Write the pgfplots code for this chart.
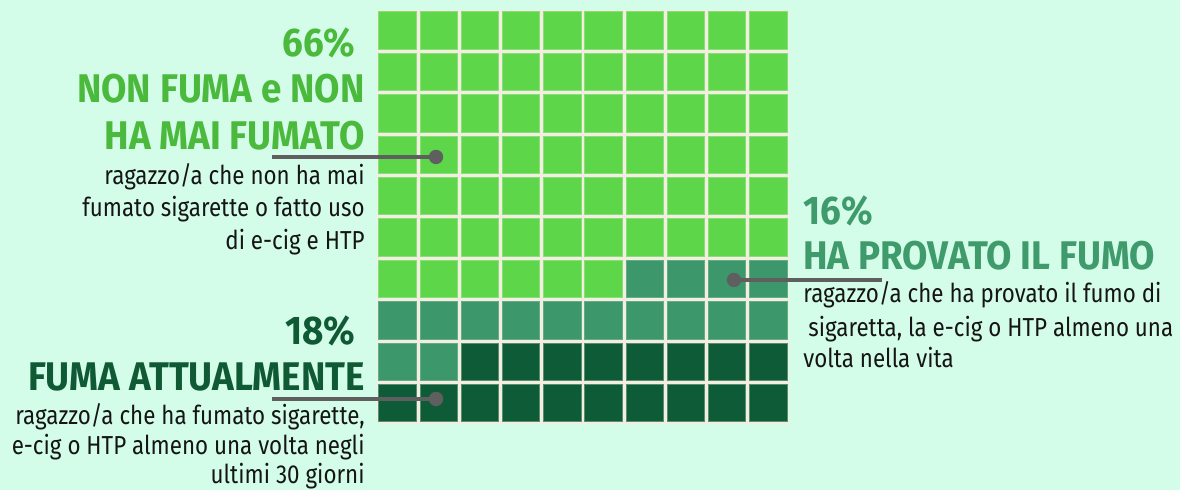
\documentclass[border=0pt]{standalone}
\usepackage{pgfplots}
\pgfplotsset{compat=1.18}
\usepackage{pgfplotstable}
\usepackage{fontspec}
\setmainfont[FakeStretch=0.86]{Fira Sans}
\newfontfamily\headfont[FakeStretch=0.92]{Fira Sans}
\definecolor{bgmint}{HTML}{D3FDE8}
\definecolor{beige}{HTML}{F3EEE0}
\definecolor{lightg}{HTML}{5DD64A}
\definecolor{midg}{HTML}{3C976B}
\definecolor{darkg}{HTML}{0D5C37}
\definecolor{lighttxt}{HTML}{4AB93C}
\definecolor{midtxt}{HTML}{3F9A6C}
\definecolor{darktxt}{HTML}{0F5A34}
\definecolor{conn}{HTML}{5F5F5F}
\definecolor{bodytxt}{HTML}{151515}

% cells: non fuma (66)
\pgfplotstableread{
x y
0.5 9.5
1.5 9.5
2.5 9.5
3.5 9.5
4.5 9.5
5.5 9.5
6.5 9.5
7.5 9.5
8.5 9.5
9.5 9.5
0.5 8.5
1.5 8.5
2.5 8.5
3.5 8.5
4.5 8.5
5.5 8.5
6.5 8.5
7.5 8.5
8.5 8.5
9.5 8.5
0.5 7.5
1.5 7.5
2.5 7.5
3.5 7.5
4.5 7.5
5.5 7.5
6.5 7.5
7.5 7.5
8.5 7.5
9.5 7.5
0.5 6.5
1.5 6.5
2.5 6.5
3.5 6.5
4.5 6.5
5.5 6.5
6.5 6.5
7.5 6.5
8.5 6.5
9.5 6.5
0.5 5.5
1.5 5.5
2.5 5.5
3.5 5.5
4.5 5.5
5.5 5.5
6.5 5.5
7.5 5.5
8.5 5.5
9.5 5.5
0.5 4.5
1.5 4.5
2.5 4.5
3.5 4.5
4.5 4.5
5.5 4.5
6.5 4.5
7.5 4.5
8.5 4.5
9.5 4.5
0.5 3.5
1.5 3.5
2.5 3.5
3.5 3.5
4.5 3.5
5.5 3.5
}\nonfuma
% ha provato (16)
\pgfplotstableread{
x y
6.5 3.5
7.5 3.5
8.5 3.5
9.5 3.5
0.5 2.5
1.5 2.5
2.5 2.5
3.5 2.5
4.5 2.5
5.5 2.5
6.5 2.5
7.5 2.5
8.5 2.5
9.5 2.5
0.5 1.5
1.5 1.5
}\provato
% fuma attualmente (18)
\pgfplotstableread{
x y
2.5 1.5
3.5 1.5
4.5 1.5
5.5 1.5
6.5 1.5
7.5 1.5
8.5 1.5
9.5 1.5
0.5 0.5
1.5 0.5
2.5 0.5
3.5 0.5
4.5 0.5
5.5 0.5
6.5 0.5
7.5 0.5
8.5 0.5
9.5 0.5
}\fuma

\begin{document}
\begin{tikzpicture}
\useasboundingbox (0,0) rectangle (590pt,245pt);
\fill[bgmint] (0,0) rectangle (590pt,245pt);
\begin{scope}
\clip (0,0) rectangle (590pt,245pt);
\begin{axis}[
  at={(188.5pt,33pt)}, anchor=south west,
  scale only axis, width=206pt, height=207pt,
  xmin=0, xmax=10, ymin=0, ymax=10,
  axis lines=none, clip=false,
  axis background/.style={fill=beige},
]
\addplot[only marks, mark=square*, mark size=9.35pt,
  mark options={fill=lightg, draw=lightg!75!white, line width=0.5pt}] table[x=x,y=y]{\nonfuma};
\addplot[only marks, mark=square*, mark size=9.35pt,
  mark options={fill=midg, draw=midg!80!white, line width=0.5pt}] table[x=x,y=y]{\provato};
\addplot[only marks, mark=square*, mark size=9.35pt,
  mark options={fill=darkg, draw=darkg!70!white, line width=0.5pt}] table[x=x,y=y]{\fuma};
\end{axis}
% connectors
\draw[conn, line width=1.6pt] (136pt,166.5pt) -- (218pt,166.5pt);
\fill[conn] (218pt,166.5pt) circle (3.6pt);
\draw[conn, line width=1.6pt] (136pt,45.5pt) -- (218pt,45.5pt);
\fill[conn] (218pt,45.5pt) circle (3.6pt);
\draw[conn, line width=1.6pt] (367pt,105pt) -- (441pt,105pt);
\fill[conn] (367pt,105pt) circle (3.6pt);
\tikzset{hd/.style={inner sep=0pt, font=\headfont\fontsize{20}{21}\selectfont\bfseries},
         bd/.style={inner sep=0pt, text=bodytxt, font=\fontsize{13}{14}\selectfont}}
% left top
\node[hd, text=lighttxt, anchor=base east] at (178pt,216.5pt) {66\%};
\node[hd, text=lighttxt, anchor=base east] at (182.5pt,193.5pt) {NON FUMA e NON};
\node[hd, text=lighttxt, anchor=base east] at (182.5pt,170pt) {HA MAI FUMATO};
\node[bd, anchor=base east] at (182.5pt,152.5pt) {ragazzo/a che non ha mai};
\node[bd, anchor=base east] at (182.5pt,136.5pt) {fumato sigarette o fatto uso};
\node[bd, anchor=base east] at (182.5pt,120pt) {di e-cig e HTP};
% left bottom
\node[hd, text=darktxt, anchor=base east] at (178pt,72.5pt) {18\%};
\node[hd, text=darktxt, anchor=base east] at (182.5pt,49.5pt) {FUMA ATTUALMENTE};
\node[bd, anchor=base east] at (182.5pt,32.5pt) {ragazzo/a che ha fumato sigarette,};
\node[bd, anchor=base east] at (182.5pt,17.8pt) {e-cig o HTP almeno una volta negli};
\node[bd, anchor=base east] at (182.5pt,3.4pt) {ultimi 30 giorni};
% right
\node[hd, text=midtxt, anchor=base west] at (401.5pt,132.5pt) {16\%};
\node[hd, text=midtxt, anchor=base west] at (401.5pt,110pt) {HA PROVATO IL FUMO};
\node[bd, anchor=base west] at (401.5pt,93.5pt) {ragazzo/a che ha provato il fumo di};
\node[bd, anchor=base west] at (404pt,76.5pt) {sigaretta, la e-cig o HTP almeno una};
\node[bd, anchor=base west] at (401.5pt,61pt) {volta nella vita};
\end{scope}
\end{tikzpicture}
\end{document}
